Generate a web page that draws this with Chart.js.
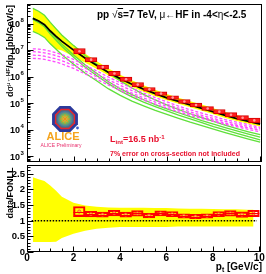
<!DOCTYPE html>
<html>
<head>
<meta charset="utf-8">
<script src="https://cdn.jsdelivr.net/npm/chart.js@4.4.1/dist/chart.umd.min.js"></script>
<style>
  html, body { margin: 0; padding: 0; background: #fff; }
  #plot { position: relative; width: 266px; height: 274px; overflow: hidden; font-family: "Liberation Sans", Arial, sans-serif; color: #000; }
  #plot canvas { position: absolute; left: 0; }
  #spectrum { top: 0; }
  #ratio { top: 160px; }
  .lbl { position: absolute; white-space: nowrap; font-weight: bold; line-height: 1; }
  .sym { font-weight: normal; }
  .up { position: relative; top: -0.45em; font-size: 0.68em; }
  .dn { position: relative; top: 0.3em; font-size: 0.68em; }
  .vert { transform: translate(-50%, -50%) rotate(-90deg); }
  .red { color: #e8102e; }
  #title { left: 97px; top: 10px; font-size: 10px; }
  #ytop { left: 10px; top: 51px; font-size: 9px; }
  #ybot { left: 10px; top: 193px; font-size: 9px; }
  #xtitle { right: 4px; top: 262px; font-size: 10px; }
  #lumi { left: 110px; top: 135px; font-size: 9px; }
  #note { left: 110px; top: 150px; font-size: 7px; }
  #alice { left: 63px; top: 131px; font-size: 11px; color: #f5a31c; transform: translateX(-50%); }
  #prelim { left: 61px; top: 143px; font-size: 5px; font-weight: normal; color: #e8306e; transform: translateX(-50%); }
</style>
</head>
<body>
<div id="plot">
  <canvas id="spectrum" width="266" height="166"></canvas>
  <canvas id="ratio" width="266" height="114"></canvas>
  <div class="lbl" id="title">pp <span class="sym">√</span><span style="text-decoration:overline">s</span>=7 TeV, <span class="sym">μ←</span>HF in -4&lt;<span class="sym">η</span>&lt;-2.5</div>
  <div class="lbl vert" id="ytop">d<span class="sym">σ</span><span class="up"><span class="sym">μ←</span>HF</span>/dp<span class="dn">t</span> [pb/GeV/c]</div>
  <div class="lbl vert" id="ybot">data/FONLL</div>
  <div class="lbl" id="xtitle">p<span class="dn">t</span> [GeV/c]</div>
  <div class="lbl red" id="lumi">L<span class="dn">int</span>=16.5 nb<span class="up">-1</span></div>
  <div class="lbl red" id="note">7% error on cross-section not included</div>
  <div class="lbl" id="alice">ALICE</div>
  <div class="lbl" id="prelim">ALICE Preliminary</div>
</div>
<script>
// FONLL curves, log10 of dsigma/dpt in pb/(GeV/c)
const ptGrid = [0.25, 0.5, 0.75, 1, 1.25, 1.5, 2, 2.5, 3, 3.5, 4, 4.5, 5, 5.5, 6, 6.5, 7, 7.5, 8, 8.5, 9, 9.5, 10];
const fonllCentral = [8.20, 8.10, 7.96, 7.72, 7.52, 7.33, 7.00, 6.69, 6.42, 6.155, 5.925, 5.715, 5.53, 5.36, 5.20, 5.065, 4.935, 4.805, 4.67, 4.535, 4.42, 4.315, 4.21];
const fonllUpper = [8.577, 8.465, 8.314, 8.046, 7.81, 7.576, 7.196, 6.86, 6.578, 6.307, 6.074, 5.864, 5.679, 5.506, 5.346, 5.208, 5.075, 4.945, 4.807, 4.669, 4.554, 4.445, 4.34];
const fonllLower = [7.705, 7.605, 7.465, 7.225, 7.04, 6.983, 6.763, 6.523, 6.289, 6.041, 5.828, 5.618, 5.433, 5.263, 5.108, 4.973, 4.843, 4.713, 4.578, 4.443, 4.328, 4.223, 4.118];

const charmHigh = [8.577, 8.465, 8.314, 8.046, 7.80, 7.56, 7.17, 6.80, 6.47, 6.14, 5.84, 5.57, 5.33, 5.12, 4.93, 4.76, 4.60, 4.45, 4.31, 4.17, 4.04, 3.92, 3.81];
const charmMidA = [8.205, 8.099, 7.95, 7.677, 7.451, 7.218, 6.815, 6.438, 6.117, 5.806, 5.542, 5.319, 5.128, 4.948, 4.788, 4.638, 4.493, 4.343, 4.208, 4.078, 3.953, 3.833, 3.718];
const charmMidB = [8.155, 8.039, 7.88, 7.607, 7.371, 7.138, 6.735, 6.358, 6.037, 5.726, 5.462, 5.239, 5.038, 4.868, 4.708, 4.548, 4.403, 4.263, 4.118, 3.988, 3.863, 3.733, 3.618];
const charmLow = [7.705, 7.609, 7.48, 7.237, 7.031, 6.828, 6.465, 6.128, 5.837, 5.536, 5.292, 5.079, 4.898, 4.728, 4.578, 4.428, 4.283, 4.153, 4.018, 3.888, 3.763, 3.643, 3.528];

const beautyA = [7.05, 7.04, 7.01, 6.96, 6.90, 6.83, 6.65, 6.43, 6.21, 5.98, 5.77, 5.57, 5.38, 5.21, 5.05, 4.89, 4.75, 4.62, 4.50, 4.38, 4.28, 4.19, 4.09];
const beautyB = [6.94, 6.93, 6.90, 6.85, 6.79, 6.72, 6.54, 6.32, 6.10, 5.88, 5.67, 5.47, 5.29, 5.12, 4.96, 4.81, 4.67, 4.54, 4.42, 4.31, 4.21, 4.12, 4.03];
const beautyC = [6.81, 6.80, 6.77, 6.72, 6.67, 6.60, 6.42, 6.21, 5.99, 5.78, 5.57, 5.38, 5.20, 5.04, 4.88, 4.74, 4.60, 4.48, 4.36, 4.25, 4.16, 4.07, 3.98];
const beautyD = [6.69, 6.68, 6.65, 6.60, 6.55, 6.48, 6.31, 6.10, 5.89, 5.68, 5.48, 5.29, 5.12, 4.96, 4.81, 4.67, 4.54, 4.42, 4.31, 4.20, 4.11, 4.01, 3.92];

// measured points (bin centres, 0.5 GeV/c bins)
const binCenters = [2.25, 2.75, 3.25, 3.75, 4.25, 4.75, 5.25, 5.75, 6.25, 6.75, 7.25, 7.75, 8.25, 8.75, 9.25, 9.75];
const dataLog = [6.96, 6.64, 6.36, 6.12, 5.90, 5.70, 5.52, 5.36, 5.21, 5.06, 4.93, 4.80, 4.68, 4.56, 4.45, 4.35];
const dataSysLog = [0.10, 0.08, 0.08, 0.08, 0.08, 0.08, 0.07, 0.07, 0.07, 0.07, 0.07, 0.07, 0.08, 0.08, 0.08, 0.09];

// ratio panel
const ratioValues = [1.29, 1.21, 1.19, 1.24, 1.19, 1.23, 1.16, 1.23, 1.21, 1.15, 1.13, 1.15, 1.21, 1.23, 1.19, 1.23];
const ratioSys = [0.16, 0.09, 0.08, 0.09, 0.08, 0.09, 0.07, 0.08, 0.08, 0.07, 0.07, 0.07, 0.08, 0.09, 0.09, 0.10];
const ratioGrid = [0.25, 0.5, 0.75, 1, 1.25, 1.5, 2, 2.5, 3, 3.5, 4, 4.5, 5, 5.5, 6, 6.5, 7, 7.5, 8, 8.5, 9, 9.5, 9.75];
const ratioBandUpper = [2.38, 2.32, 2.26, 2.12, 1.95, 1.76, 1.57, 1.48, 1.44, 1.42, 1.41, 1.41, 1.41, 1.40, 1.40, 1.39, 1.38, 1.38, 1.37, 1.36, 1.36, 1.35, 1.35];
const ratioBandLower = [0.32, 0.32, 0.32, 0.32, 0.33, 0.45, 0.58, 0.68, 0.74, 0.77, 0.80, 0.80, 0.80, 0.80, 0.80, 0.81, 0.81, 0.81, 0.81, 0.81, 0.81, 0.81, 0.81];
const unityX = [0.2, 9.9];
const unityY = [1, 1];

const xMajorLabels = ["0", "2", "4", "6", "8", "10"];
const xMajorValues = [0, 2, 4, 6, 8, 10];
const logDecades = [3, 4, 5, 6, 7, 8];
const ratioLabels = ["0", "0.5", "1", "1.5", "2", "2.5"];
const ratioTickValues = [0, 0.5, 1, 1.5, 2, 2.5];

const X_MIN = 0;
const X_MAX = 10.08;
const GREEN = "#5fe03a";
const PINK = "#ff4cff";
const YELLOW = "#ffff00";
const RED = "#ff0000";
const FONT = '"Liberation Sans", Arial, sans-serif';

function xy(xs, ys) {
  return xs.map((x, i) => ({ x, y: ys[i] }));
}

function curve(ys, color, width, dash, order) {
  return {
    type: "line",
    data: xy(ptGrid, ys),
    borderColor: color,
    borderWidth: width,
    borderDash: dash || [],
    pointRadius: 0,
    tension: 0,
    fill: false,
    order
  };
}

function drawFrame(ctx, a) {
  ctx.strokeStyle = "#000";
  ctx.lineWidth = 1;
  ctx.strokeRect(Math.round(a.left) + 0.5, Math.round(a.top) + 0.5,
    Math.round(a.right - a.left) - 1, Math.round(a.bottom - a.top) - 1);
}

function drawXTicks(ctx, chart, withLabels) {
  const { chartArea: a, scales: { x } } = chart;
  const yb = Math.round(a.bottom) - 0.5;
  ctx.beginPath();
  for (let v = 0; v <= 10.001; v += 0.5) {
    const px = Math.round(x.getPixelForValue(v)) + 0.5;
    const len = Math.abs(v % 2) < 1e-6 ? 5 : 3;
    ctx.moveTo(px, yb);
    ctx.lineTo(px, yb - len);
  }
  ctx.stroke();
  if (!withLabels) return;
  ctx.fillStyle = "#000";
  ctx.font = "bold 10px " + FONT;
  ctx.textAlign = "center";
  ctx.textBaseline = "top";
  xMajorValues.forEach((v, i) => {
    ctx.fillText(xMajorLabels[i], x.getPixelForValue(v), a.bottom + 1);
  });
}

const spectrumAxes = {
  id: "spectrumAxes",
  afterDraw(chart) {
    const { ctx, chartArea: a, scales: { y } } = chart;
    ctx.save();
    drawFrame(ctx, a);
    drawXTicks(ctx, chart, false);
    const xl = Math.round(a.left) + 0.5;
    ctx.beginPath();
    for (let n = 2; n <= 8; n++) {
      for (let k = 1; k <= 9; k++) {
        const v = n + Math.log10(k);
        if (v < y.min || v > y.max) continue;
        const py = Math.round(y.getPixelForValue(v)) + 0.5;
        ctx.moveTo(xl, py);
        ctx.lineTo(xl + (k === 1 ? 6 : 3), py);
      }
    }
    ctx.stroke();
    ctx.fillStyle = "#000";
    ctx.textBaseline = "middle";
    logDecades.forEach((n) => {
      const py = y.getPixelForValue(n);
      ctx.font = "bold 9px " + FONT;
      ctx.textAlign = "right";
      ctx.fillText("10", a.left - 7, py + 1);
      ctx.font = "bold 6px " + FONT;
      ctx.textAlign = "left";
      ctx.fillText(String(n), a.left - 6.5, py - 3);
    });
    drawLogo(ctx);
    ctx.restore();
  }
};

function drawOctagon(ctx, cx, cy, r, color) {
  ctx.beginPath();
  for (let i = 0; i < 8; i++) {
    const ang = Math.PI / 8 + i * Math.PI / 4;
    const px = cx + r * Math.cos(ang);
    const py = cy + r * Math.sin(ang);
    if (i === 0) ctx.moveTo(px, py); else ctx.lineTo(px, py);
  }
  ctx.closePath();
  ctx.fillStyle = color;
  ctx.fill();
}

function drawLogo(ctx) {
  const cx = 65, cy = 119;
  drawOctagon(ctx, cx, cy, 14, "#2b3a9c");
  drawOctagon(ctx, cx, cy, 11, "#e8242c");
  drawOctagon(ctx, cx, cy, 9.5, "#4f6f7a");
  const g = ctx.createRadialGradient(cx, cy, 0, cx, cy, 8);
  g.addColorStop(0, "#f2e04a");
  g.addColorStop(0.5, "#7fbf4a");
  g.addColorStop(1, "#3f6fb0");
  ctx.beginPath();
  ctx.arc(cx, cy, 8, 0, Math.PI * 2);
  ctx.fillStyle = g;
  ctx.fill();
  ctx.strokeStyle = "#f08a1c";
  ctx.lineWidth = 1;
  ctx.beginPath();
  for (let i = 0; i < 8; i++) {
    const ang = i * Math.PI / 4;
    ctx.moveTo(cx, cy);
    ctx.lineTo(cx + 4.5 * Math.cos(ang), cy + 4.5 * Math.sin(ang));
  }
  ctx.stroke();
  ctx.beginPath();
  ctx.arc(77.5, 128, 1.4, 0, Math.PI * 2);
  ctx.fillStyle = "#3a5bc8";
  ctx.fill();
}

const ratioAxes = {
  id: "ratioAxes",
  afterDatasetsDraw(chart) {
    // horizontal bin-width bars through each ratio point
    const { ctx, scales: { x, y } } = chart;
    ctx.save();
    ctx.strokeStyle = RED;
    ctx.lineWidth = 1;
    ctx.beginPath();
    binCenters.forEach((c, i) => {
      const py = Math.round(y.getPixelForValue(ratioValues[i])) + 0.5;
      ctx.moveTo(x.getPixelForValue(c - 0.25), py);
      ctx.lineTo(x.getPixelForValue(c + 0.25), py);
    });
    ctx.stroke();
    ctx.restore();
  },
  afterDraw(chart) {
    const { ctx, chartArea: a, scales: { y } } = chart;
    ctx.save();
    drawFrame(ctx, a);
    drawXTicks(ctx, chart, true);
    const xl = Math.round(a.left) + 0.5;
    ctx.beginPath();
    for (let i = 0; i <= 27; i++) {
      const v = i / 10;
      const py = Math.round(y.getPixelForValue(v)) + 0.5;
      ctx.moveTo(xl, py);
      ctx.lineTo(xl + (i % 5 === 0 ? 6 : 3), py);
    }
    ctx.stroke();
    ctx.fillStyle = "#000";
    ctx.font = "bold 9.5px " + FONT;
    ctx.textAlign = "right";
    ctx.textBaseline = "middle";
    ratioTickValues.forEach((v, i) => {
      ctx.fillText(ratioLabels[i], a.left - 2, y.getPixelForValue(v) + 0.5);
    });
    ctx.restore();
  }
};

function baseOptions(yMin, yMax, padding) {
  return {
    responsive: false,
    devicePixelRatio: 1,
    animation: false,
    events: [],
    layout: { padding },
    plugins: { legend: { display: false }, tooltip: { enabled: false } },
    scales: {
      x: { type: "linear", min: X_MIN, max: X_MAX, offset: false, display: false, grid: { offset: false } },
      y: { type: "linear", min: yMin, max: yMax, display: false }
    }
  };
}

new Chart(document.getElementById("spectrum"), {
  type: "line",
  data: {
    datasets: [
      { type: "line", data: xy(ptGrid, fonllLower), borderWidth: 0, pointRadius: 0, tension: 0, fill: false, order: 20 },
      { type: "line", data: xy(ptGrid, fonllUpper), borderWidth: 0, pointRadius: 0, tension: 0, fill: "-1", backgroundColor: YELLOW, order: 19 },
      curve(charmHigh, GREEN, 1.3, null, 15),
      curve(charmMidA, GREEN, 1.3, null, 15),
      curve(charmMidB, GREEN, 1.3, null, 15),
      curve(charmLow, GREEN, 1.3, null, 15),
      curve(beautyA, PINK, 1.3, [3, 2], 12),
      curve(beautyB, PINK, 1.3, [3, 2], 12),
      curve(beautyC, PINK, 1.3, [3, 2], 12),
      curve(beautyD, PINK, 1.3, [3, 2], 12),
      curve(fonllCentral, "#000000", 1.8, null, 10),
      {
        type: "bar",
        data: binCenters.map((c, i) => ({ x: c, y: [dataLog[i] - dataSysLog[i], dataLog[i] + dataSysLog[i]] })),
        backgroundColor: "#ff1c1c",
        borderColor: "#d40000",
        borderWidth: 1,
        borderSkipped: false,
        barPercentage: 1,
        categoryPercentage: 1,
        grouped: false,
        order: 3
      },
      {
        type: "line",
        data: xy(binCenters, dataLog),
        showLine: false,
        pointRadius: 1.3,
        pointBackgroundColor: "#ff9a9a",
        pointBorderColor: "#ff9a9a",
        pointBorderWidth: 0,
        order: 1
      }
    ]
  },
  options: baseOptions(2.78, 8.74, { left: 27, right: 4, top: 2, bottom: 3 }),
  plugins: [spectrumAxes]
});

new Chart(document.getElementById("ratio"), {
  type: "line",
  data: {
    datasets: [
      { type: "line", data: xy(ratioGrid, ratioBandLower), borderWidth: 0, pointRadius: 0, tension: 0, fill: false, order: 20 },
      { type: "line", data: xy(ratioGrid, ratioBandUpper), borderWidth: 0, pointRadius: 0, tension: 0, fill: "-1", backgroundColor: YELLOW, order: 19 },
      {
        type: "line",
        data: xy(unityX, unityY),
        borderColor: "#000",
        borderWidth: 1.5,
        borderDash: [1.5, 1.5],
        pointRadius: 0,
        fill: false,
        order: 10
      },
      {
        type: "bar",
        data: binCenters.map((c, i) => ({ x: c, y: [ratioValues[i] - ratioSys[i], ratioValues[i] + ratioSys[i]] })),
        backgroundColor: "rgba(0,0,0,0)",
        borderColor: RED,
        borderWidth: 1.5,
        borderSkipped: false,
        barPercentage: 1,
        categoryPercentage: 1,
        grouped: false,
        order: 3
      },
      {
        type: "line",
        data: xy(binCenters, ratioValues),
        showLine: false,
        pointRadius: 1.6,
        pointBackgroundColor: "#ffc040",
        pointBorderColor: "#ff4020",
        pointBorderWidth: 0.8,
        order: 1
      }
    ]
  },
  options: baseOptions(0, 2.78, { left: 27, right: 4, top: 3, bottom: 22 }),
  plugins: [ratioAxes]
});
</script>
</body>
</html>
